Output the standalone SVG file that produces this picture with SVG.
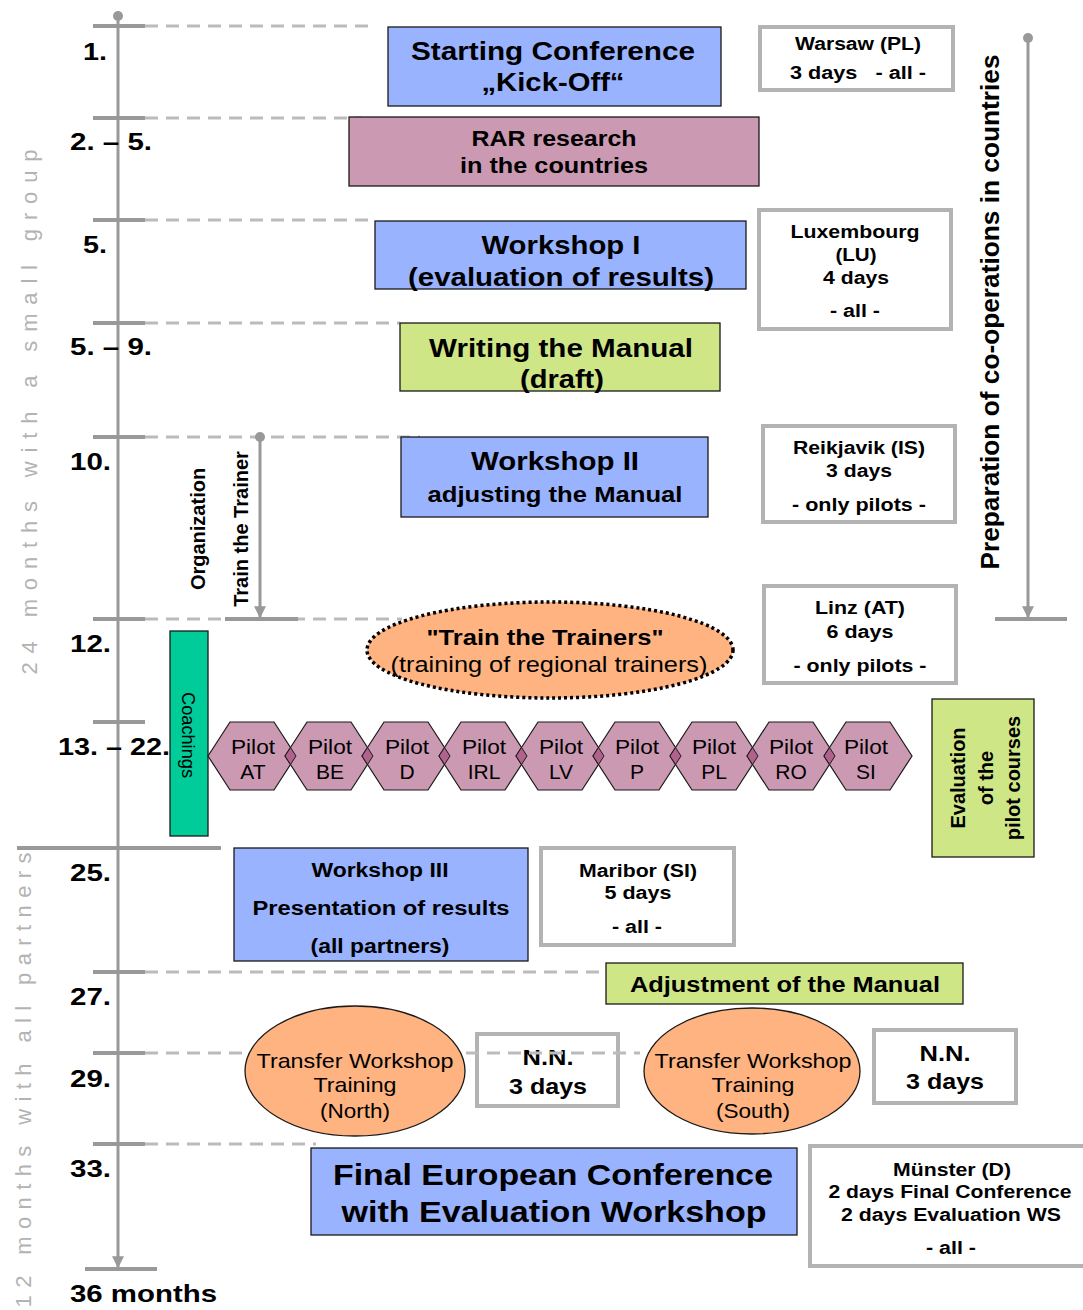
<svg xmlns="http://www.w3.org/2000/svg" width="1083" height="1310" viewBox="0 0 1083 1310">
<style>
text{font-family:"Liberation Sans",Arial,sans-serif;fill:#000;text-anchor:middle}
.b{font-weight:bold}
.ax{stroke:#999;stroke-width:3;fill:none}
.tk{stroke:#999;stroke-width:4;fill:none}
.ds{stroke:#bbb;stroke-width:3;stroke-dasharray:13 8;fill:none}
.blue{fill:#99b3ff;stroke:#1a1a1a;stroke-width:1.3}
.pink{fill:#cc99b3;stroke:#1a1a1a;stroke-width:1.3}
.green{fill:#cfe687;stroke:#1a1a1a;stroke-width:1.3}
.info{fill:#fff;stroke:#b3b3b3;stroke-width:4}
.hex{fill:#cc99b3;stroke:#1a1a1a;stroke-width:1.2}
.dia{fill:#b0628c;stroke:#1a1a1a;stroke-width:1}
.gray{fill:#b3b3b3;text-anchor:middle;font-size:22px}
.num{font-weight:bold;font-size:24px;text-anchor:start}
</style>
<defs>
<marker id="arr" viewBox="0 0 10 10" refX="9" refY="5" markerWidth="4" markerHeight="4" orient="auto" markerUnits="strokeWidth">
<path d="M0,0 L10,5 L0,10 z" fill="#999"/>
</marker>
</defs>

<g id="connectors">
<line class="ax" x1="118" y1="16" x2="118" y2="1267" marker-end="url(#arr)"/>
<circle cx="118" cy="16" r="5" fill="#999"/>
<line class="ds" x1="145" y1="26" x2="370" y2="26"/>
<line class="ds" x1="145" y1="118" x2="362" y2="118"/>
<line class="ds" x1="145" y1="220" x2="372" y2="220"/>
<line class="ds" x1="145" y1="323" x2="400" y2="323"/>
<line class="ds" x1="145" y1="437" x2="420" y2="437"/>
<line class="ds" x1="145" y1="619" x2="402" y2="619"/>
<line class="ds" x1="145" y1="972" x2="612" y2="972"/>
<line class="ds" x1="145" y1="1053" x2="246" y2="1053"/>
<line class="ds" x1="145" y1="1144" x2="316" y2="1144"/>
<line class="tk" x1="93" y1="26" x2="145" y2="26"/>
<line class="tk" x1="93" y1="118" x2="145" y2="118"/>
<line class="tk" x1="93" y1="220" x2="145" y2="220"/>
<line class="tk" x1="93" y1="323" x2="145" y2="323"/>
<line class="tk" x1="93" y1="437" x2="145" y2="437"/>
<line class="tk" x1="93" y1="619" x2="145" y2="619"/>
<line class="tk" x1="93" y1="722" x2="145" y2="722"/>
<line class="tk" x1="17" y1="848" x2="221" y2="848"/>
<line class="tk" x1="93" y1="972" x2="145" y2="972"/>
<line class="tk" x1="93" y1="1053" x2="145" y2="1053"/>
<line class="tk" x1="93" y1="1144" x2="145" y2="1144"/>
<line class="tk" x1="85" y1="1269" x2="157" y2="1269"/>
<line class="ax" x1="260" y1="437" x2="260" y2="617" marker-end="url(#arr)"/>
<circle cx="260" cy="437" r="5" fill="#999"/>
<line class="tk" x1="225" y1="619" x2="298" y2="619"/>
<line class="ax" x1="1028" y1="38" x2="1028" y2="617" marker-end="url(#arr)"/>
<circle cx="1028" cy="38" r="5" fill="#999"/>
<line class="tk" x1="995" y1="619" x2="1067" y2="619"/>
</g>

<g id="timeline-labels">
<text class="num" x="83" y="60" textLength="24" lengthAdjust="spacingAndGlyphs">1.</text>
<text class="num" x="70" y="150" textLength="82" lengthAdjust="spacingAndGlyphs">2. – 5.</text>
<text class="num" x="83" y="253" textLength="24" lengthAdjust="spacingAndGlyphs">5.</text>
<text class="num" x="70" y="355" textLength="82" lengthAdjust="spacingAndGlyphs">5. – 9.</text>
<text class="num" x="70" y="470" textLength="41" lengthAdjust="spacingAndGlyphs">10.</text>
<text class="num" x="70" y="652" textLength="41" lengthAdjust="spacingAndGlyphs">12.</text>
<text class="num" x="58" y="755" textLength="112" lengthAdjust="spacingAndGlyphs">13. – 22.</text>
<text class="num" x="70" y="881" textLength="41" lengthAdjust="spacingAndGlyphs">25.</text>
<text class="num" x="70" y="1005" textLength="41" lengthAdjust="spacingAndGlyphs">27.</text>
<text class="num" x="70" y="1087" textLength="41" lengthAdjust="spacingAndGlyphs">29.</text>
<text class="num" x="70" y="1177" textLength="41" lengthAdjust="spacingAndGlyphs">33.</text>
<text class="num" x="70" y="1302" textLength="147" lengthAdjust="spacingAndGlyphs">36 months</text>
<text class="gray" transform="translate(37,412) rotate(-90)" textLength="525" lengthAdjust="spacing">24  months  with  a  small  group</text>
<text class="gray" transform="translate(31,1080) rotate(-90)" textLength="455" lengthAdjust="spacing">12  months  with  all  partners</text>
<text class="b" font-size="20" transform="translate(205,529) rotate(-90)">Organization</text>
<text class="b" font-size="20" transform="translate(248,529) rotate(-90)">Train the Trainer</text>
<text class="b" font-size="26" transform="translate(999,312) rotate(-90)" textLength="515" lengthAdjust="spacingAndGlyphs">Preparation of co-operations in countries</text>
</g>

<g id="kickoff">
<rect class="blue" x="388" y="27" width="333" height="79"/>
<text class="b" font-size="25" x="553" y="60" textLength="284" lengthAdjust="spacingAndGlyphs">Starting Conference</text>
<text class="b" font-size="25" x="553" y="91" textLength="143" lengthAdjust="spacingAndGlyphs">„Kick-Off“</text>
</g>
<g id="rar">
<rect class="pink" x="349" y="117" width="410" height="69"/>
<text class="b" font-size="22" x="554" y="146" textLength="165" lengthAdjust="spacingAndGlyphs">RAR research</text>
<text class="b" font-size="22" x="554" y="173" textLength="188" lengthAdjust="spacingAndGlyphs">in the countries</text>
</g>
<g id="workshop1">
<rect class="blue" x="375" y="221" width="371" height="68"/>
<text class="b" font-size="25" x="561" y="254" textLength="159" lengthAdjust="spacingAndGlyphs">Workshop I</text>
<text class="b" font-size="25" x="561" y="286" textLength="306" lengthAdjust="spacingAndGlyphs">(evaluation of results)</text>
</g>
<g id="manual-draft">
<rect class="green" x="400" y="323" width="320" height="68"/>
<text class="b" font-size="25" x="561" y="357" textLength="264" lengthAdjust="spacingAndGlyphs">Writing the Manual</text>
<text class="b" font-size="25" x="562" y="388" textLength="84" lengthAdjust="spacingAndGlyphs">(draft)</text>
</g>
<g id="workshop2">
<rect class="blue" x="401" y="437" width="307" height="80"/>
<text class="b" font-size="25" x="555" y="470" textLength="168" lengthAdjust="spacingAndGlyphs">Workshop II</text>
<text class="b" font-size="22" x="555" y="502" textLength="255" lengthAdjust="spacingAndGlyphs">adjusting the Manual</text>
</g>
<g id="train-trainers">
<ellipse cx="550" cy="650" rx="183" ry="48" fill="#ffb380" stroke="#000" stroke-width="3.5" stroke-dasharray="3 3"/>
<text class="b" font-size="22" x="545" y="645" textLength="237" lengthAdjust="spacingAndGlyphs">"Train the Trainers"</text>
<text font-size="22" x="549" y="672" textLength="317" lengthAdjust="spacingAndGlyphs">(training of regional trainers)</text>
</g>
<g id="coachings">
<rect x="170" y="631" width="38" height="205" fill="#00cc99" stroke="#1a1a1a" stroke-width="1.3"/>
<text font-size="19" transform="translate(182,735) rotate(90)" textLength="86" lengthAdjust="spacingAndGlyphs">Coachings</text>
</g>

<g id="pilots">
<polygon class="hex" points="208,756 230,722 274,722 296,756 274,790 230,790"/>
<polygon class="hex" points="285,756 307,722 351,722 373,756 351,790 307,790"/>
<polygon class="hex" points="362,756 384,722 428,722 450,756 428,790 384,790"/>
<polygon class="hex" points="439,756 461,722 505,722 527,756 505,790 461,790"/>
<polygon class="hex" points="516,756 538,722 582,722 604,756 582,790 538,790"/>
<polygon class="hex" points="593,756 615,722 659,722 681,756 659,790 615,790"/>
<polygon class="hex" points="670,756 692,722 736,722 758,756 736,790 692,790"/>
<polygon class="hex" points="747,756 769,722 813,722 835,756 813,790 769,790"/>
<polygon class="hex" points="824,756 846,722 890,722 912,756 890,790 846,790"/>
<polygon class="dia" points="285,756 290.5,747.5 296,756 290.5,764.5"/>
<polygon class="dia" points="362,756 367.5,747.5 373,756 367.5,764.5"/>
<polygon class="dia" points="439,756 444.5,747.5 450,756 444.5,764.5"/>
<polygon class="dia" points="516,756 521.5,747.5 527,756 521.5,764.5"/>
<polygon class="dia" points="593,756 598.5,747.5 604,756 598.5,764.5"/>
<polygon class="dia" points="670,756 675.5,747.5 681,756 675.5,764.5"/>
<polygon class="dia" points="747,756 752.5,747.5 758,756 752.5,764.5"/>
<polygon class="dia" points="824,756 829.5,747.5 835,756 829.5,764.5"/>
<g font-size="21">
<text x="253" y="754" textLength="44" lengthAdjust="spacingAndGlyphs">Pilot</text><text x="253" y="779">AT</text>
<text x="330" y="754" textLength="44" lengthAdjust="spacingAndGlyphs">Pilot</text><text x="330" y="779">BE</text>
<text x="407" y="754" textLength="44" lengthAdjust="spacingAndGlyphs">Pilot</text><text x="407" y="779">D</text>
<text x="484" y="754" textLength="44" lengthAdjust="spacingAndGlyphs">Pilot</text><text x="484" y="779">IRL</text>
<text x="561" y="754" textLength="44" lengthAdjust="spacingAndGlyphs">Pilot</text><text x="561" y="779">LV</text>
<text x="637" y="754" textLength="44" lengthAdjust="spacingAndGlyphs">Pilot</text><text x="637" y="779">P</text>
<text x="714" y="754" textLength="44" lengthAdjust="spacingAndGlyphs">Pilot</text><text x="714" y="779">PL</text>
<text x="791" y="754" textLength="44" lengthAdjust="spacingAndGlyphs">Pilot</text><text x="791" y="779">RO</text>
<text x="866" y="754" textLength="44" lengthAdjust="spacingAndGlyphs">Pilot</text><text x="866" y="779">SI</text>
</g>
</g>

<g id="evaluation">
<rect class="green" x="932" y="699" width="102" height="158"/>
<text class="b" font-size="20" transform="translate(965,778) rotate(-90)">Evaluation</text>
<text class="b" font-size="20" transform="translate(993,778) rotate(-90)">of the</text>
<text class="b" font-size="20" transform="translate(1020,778) rotate(-90)">pilot courses</text>
</g>

<g id="workshop3">
<rect class="blue" x="234" y="848" width="294" height="113"/>
<text class="b" font-size="20" x="380" y="877" textLength="137" lengthAdjust="spacingAndGlyphs">Workshop III</text>
<text class="b" font-size="20" x="381" y="915" textLength="257" lengthAdjust="spacingAndGlyphs">Presentation of  results</text>
<text class="b" font-size="20" x="380" y="953" textLength="139" lengthAdjust="spacingAndGlyphs">(all partners)</text>
</g>
<g id="maribor">
<rect class="info" x="541" y="848" width="193" height="97"/>
<text class="b" font-size="18" x="638" y="877" textLength="118" lengthAdjust="spacingAndGlyphs">Maribor (SI)</text>
<text class="b" font-size="18" x="638" y="899" textLength="67" lengthAdjust="spacingAndGlyphs">5 days</text>
<text class="b" font-size="18" x="637" y="933" textLength="50" lengthAdjust="spacingAndGlyphs">- all -</text>
</g>
<g id="adjustment">
<rect class="green" x="606" y="963" width="357" height="41"/>
<text class="b" font-size="22" x="785" y="992" textLength="310" lengthAdjust="spacingAndGlyphs">Adjustment of the Manual</text>
</g>
<g id="transfer-north">
<ellipse cx="355" cy="1071" rx="110" ry="65" fill="#ffb380" stroke="#1a1a1a" stroke-width="1.3"/>
<text font-size="21" x="355" y="1068" textLength="197" lengthAdjust="spacingAndGlyphs">Transfer Workshop</text>
<text font-size="21" x="355" y="1092" textLength="83" lengthAdjust="spacingAndGlyphs">Training</text>
<text font-size="21" x="355" y="1118" textLength="70" lengthAdjust="spacingAndGlyphs">(North)</text>
</g>
<g id="nn-north">
<rect class="info" x="477" y="1034" width="141" height="72"/>
<text class="b" font-size="22" x="548" y="1065" textLength="51" lengthAdjust="spacingAndGlyphs">N.N.</text>
<text class="b" font-size="22" x="548" y="1094" textLength="78" lengthAdjust="spacingAndGlyphs">3 days</text>
<line class="ds" x1="466" y1="1053" x2="640" y2="1053"/>
</g>
<g id="transfer-south">
<ellipse cx="752" cy="1071" rx="108" ry="63" fill="#ffb380" stroke="#1a1a1a" stroke-width="1.3"/>
<text font-size="21" x="753" y="1068" textLength="197" lengthAdjust="spacingAndGlyphs">Transfer Workshop</text>
<text font-size="21" x="753" y="1092" textLength="83" lengthAdjust="spacingAndGlyphs">Training</text>
<text font-size="21" x="753" y="1118" textLength="74" lengthAdjust="spacingAndGlyphs">(South)</text>
</g>
<g id="nn-south">
<rect class="info" x="874" y="1030" width="142" height="73"/>
<text class="b" font-size="22" x="945" y="1061" textLength="51" lengthAdjust="spacingAndGlyphs">N.N.</text>
<text class="b" font-size="22" x="945" y="1089" textLength="78" lengthAdjust="spacingAndGlyphs">3 days</text>
</g>
<g id="final">
<rect class="blue" x="311" y="1148" width="486" height="87"/>
<text class="b" font-size="30" x="553" y="1185" textLength="440" lengthAdjust="spacingAndGlyphs">Final European Conference</text>
<text class="b" font-size="30" x="554" y="1222" textLength="425" lengthAdjust="spacingAndGlyphs">with Evaluation Workshop</text>
</g>
<g id="munster">
<rect class="info" x="810" y="1146" width="280" height="120"/>
<text class="b" font-size="18" x="952" y="1176" textLength="118" lengthAdjust="spacingAndGlyphs">Münster (D)</text>
<text class="b" font-size="18" x="950" y="1198" textLength="243" lengthAdjust="spacingAndGlyphs">2 days Final Conference</text>
<text class="b" font-size="18" x="951" y="1221" textLength="220" lengthAdjust="spacingAndGlyphs">2 days Evaluation WS</text>
<text class="b" font-size="18" x="951" y="1254" textLength="50" lengthAdjust="spacingAndGlyphs">- all -</text>
</g>

<g id="warsaw">
<rect class="info" x="760" y="27" width="193" height="63"/>
<text class="b" font-size="18" x="858" y="50" textLength="126" lengthAdjust="spacingAndGlyphs">Warsaw (PL)</text>
<text class="b" font-size="18" x="858" y="79" xml:space="preserve" textLength="136" lengthAdjust="spacingAndGlyphs">3 days   - all -</text>
</g>
<g id="luxembourg">
<rect class="info" x="759" y="210" width="192" height="119"/>
<text class="b" font-size="18" x="855" y="238" textLength="129" lengthAdjust="spacingAndGlyphs">Luxembourg</text>
<text class="b" font-size="18" x="856" y="261" textLength="41" lengthAdjust="spacingAndGlyphs">(LU)</text>
<text class="b" font-size="18" x="856" y="284" textLength="66" lengthAdjust="spacingAndGlyphs">4 days</text>
<text class="b" font-size="18" x="855" y="317" textLength="50" lengthAdjust="spacingAndGlyphs">- all -</text>
</g>
<g id="reikjavik">
<rect class="info" x="763" y="426" width="192" height="96"/>
<text class="b" font-size="18" x="859" y="454" textLength="132" lengthAdjust="spacingAndGlyphs">Reikjavik (IS)</text>
<text class="b" font-size="18" x="859" y="477" textLength="66" lengthAdjust="spacingAndGlyphs">3 days</text>
<text class="b" font-size="18" x="859" y="511" textLength="134" lengthAdjust="spacingAndGlyphs">- only pilots -</text>
</g>
<g id="linz">
<rect class="info" x="764" y="586" width="192" height="97"/>
<text class="b" font-size="18" x="860" y="614" textLength="90" lengthAdjust="spacingAndGlyphs">Linz (AT)</text>
<text class="b" font-size="18" x="860" y="638" textLength="67" lengthAdjust="spacingAndGlyphs">6 days</text>
<text class="b" font-size="18" x="860" y="672" textLength="133" lengthAdjust="spacingAndGlyphs">- only pilots -</text>
</g>
</svg>
